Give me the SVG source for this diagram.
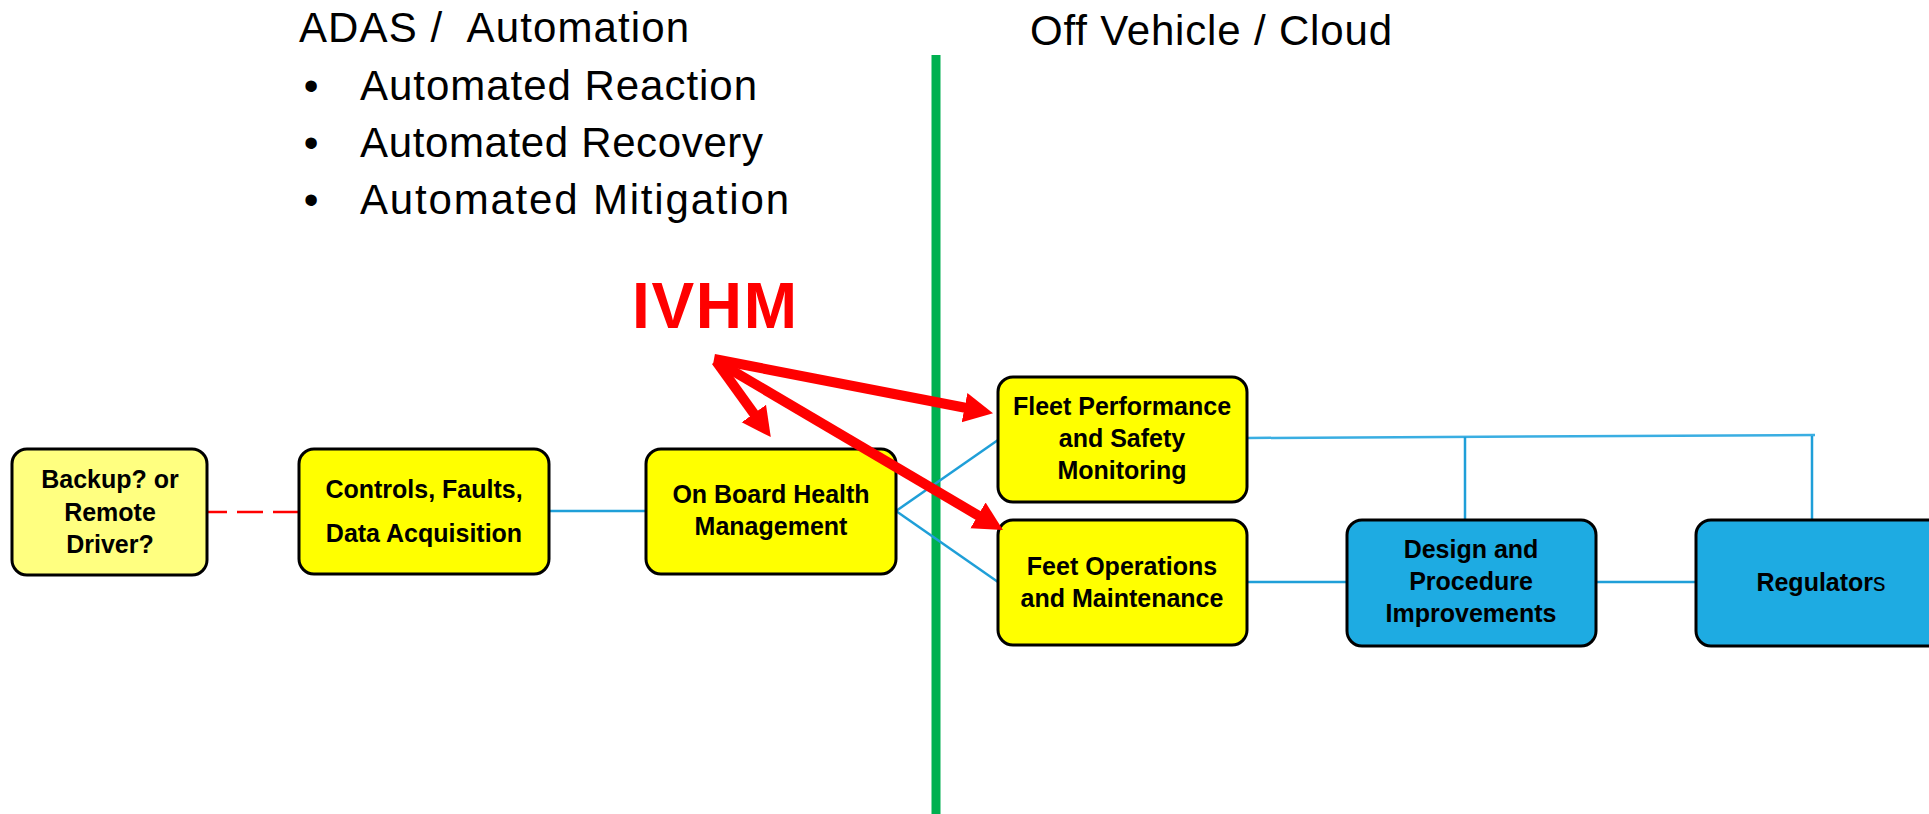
<svg xmlns="http://www.w3.org/2000/svg" width="1929" height="814" viewBox="0 0 1929 814">
  <style>
    .heading { font-family: "Liberation Sans", Arial, sans-serif; font-size: 42px; fill: #000; }
    .node rect { stroke: #000; stroke-width: 3; }
    .node text { font-family: "Liberation Sans", Arial, sans-serif; font-size: 25px; font-weight: bold; fill: #000; text-anchor: middle; }
    .yellow { fill: #FFFF00; }
    .pale { fill: #FFFF80; }
    .blue { fill: #1EABE2; }
    .link { stroke: #1F9FD8; stroke-width: 2.5; fill: none; }
    .link-light { stroke: #3AAEE2; stroke-width: 2.5; fill: none; }
    .dashed { stroke: #FF0000; stroke-width: 2.5; stroke-dasharray: 26 10; stroke-dashoffset: 6; fill: none; }
    .ivhm { stroke: #FF0000; stroke-width: 10; fill: none; marker-end: url(#redHead); }
  </style>
  <defs>
    <marker id="redHead" markerUnits="userSpaceOnUse" viewBox="0 -17 32 34" markerWidth="32" markerHeight="34" refX="2" refY="0" orient="auto">
      <path d="M0,-15 L29,0 L0,15 z" fill="#FF0000"/>
    </marker>
  </defs>

  <rect width="1929" height="814" fill="#FFFFFF"/>

  <!-- Headings -->
  <g id="headings">
    <text class="heading" x="299" y="42" textLength="390" lengthAdjust="spacing" xml:space="preserve">ADAS /  Automation</text>
    <text class="heading" x="311" y="100" text-anchor="middle">•</text>
    <text class="heading" x="360" y="100" textLength="397" lengthAdjust="spacing">Automated Reaction</text>
    <text class="heading" x="311" y="157" text-anchor="middle">•</text>
    <text class="heading" x="360" y="157" textLength="403" lengthAdjust="spacing">Automated Recovery</text>
    <text class="heading" x="311" y="214" text-anchor="middle">•</text>
    <text class="heading" x="360" y="214" textLength="429" lengthAdjust="spacing">Automated Mitigation</text>
    <text class="heading" x="1030" y="45" textLength="362" lengthAdjust="spacing">Off Vehicle / Cloud</text>
    <text x="632" y="328" font-family="'Liberation Sans', Arial, sans-serif" font-size="64" font-weight="bold" fill="#FF0000" textLength="165" lengthAdjust="spacing">IVHM</text>
  </g>

  <!-- Vehicle / cloud boundary -->
  <line id="boundary" x1="936" y1="55" x2="936" y2="814" stroke="#00B050" stroke-width="9"/>

  <!-- Connectors between nodes -->
  <g id="connectors">
    <line class="dashed" x1="207" y1="512" x2="299" y2="512"/>
    <line class="link" x1="549" y1="511" x2="646" y2="511"/>
    <line class="link" x1="896" y1="511" x2="998" y2="440"/>
    <line class="link" x1="896" y1="511" x2="998" y2="582"/>
    <polyline class="link-light" points="1247,438 1815,435"/>
    <line class="link" x1="1465" y1="437" x2="1465" y2="520"/>
    <line class="link" x1="1812" y1="436" x2="1812" y2="520"/>
    <line class="link" x1="1247" y1="582" x2="1347" y2="582"/>
    <line class="link" x1="1596" y1="582" x2="1696" y2="582"/>
  </g>

  <!-- Nodes -->
  <g id="backup" class="node">
    <rect class="pale" x="12" y="449" width="195" height="126" rx="15"/>
    <text x="110" y="488">Backup? or</text>
    <text x="110" y="521">Remote</text>
    <text x="110" y="553">Driver?</text>
  </g>
  <g id="controls" class="node">
    <rect class="yellow" x="299" y="449" width="250" height="125" rx="15"/>
    <text x="424" y="498">Controls, Faults,</text>
    <text x="424" y="542">Data Acquisition</text>
  </g>
  <g id="onboard" class="node">
    <rect class="yellow" x="646" y="449" width="250" height="125" rx="15"/>
    <text x="771" y="503">On Board Health</text>
    <text x="771" y="535">Management</text>
  </g>
  <g id="fleet-monitoring" class="node">
    <rect class="yellow" x="998" y="377" width="249" height="125" rx="15"/>
    <text x="1122" y="415">Fleet Performance</text>
    <text x="1122" y="447">and Safety</text>
    <text x="1122" y="479">Monitoring</text>
  </g>
  <g id="fleet-operations" class="node">
    <rect class="yellow" x="998" y="520" width="249" height="125" rx="15"/>
    <text x="1122" y="575">Feet Operations</text>
    <text x="1122" y="607">and Maintenance</text>
  </g>
  <g id="design" class="node">
    <rect class="blue" x="1347" y="520" width="249" height="126" rx="15"/>
    <text x="1471" y="558">Design and</text>
    <text x="1471" y="590">Procedure</text>
    <text x="1471" y="622">Improvements</text>
  </g>
  <g id="regulators" class="node">
    <rect class="blue" x="1696" y="520" width="250" height="126" rx="15"/>
    <text x="1821" y="591">Regulator<tspan font-weight="normal">s</tspan></text>
  </g>

  <!-- IVHM pointers -->
  <g id="ivhm-links">
    <line class="ivhm" x1="714" y1="359" x2="966.5" y2="408"/>
    <line class="ivhm" x1="716" y1="361" x2="979.7" y2="516.4"/>
    <line class="ivhm" x1="716" y1="361" x2="755" y2="415.2"/>
  </g>
</svg>
